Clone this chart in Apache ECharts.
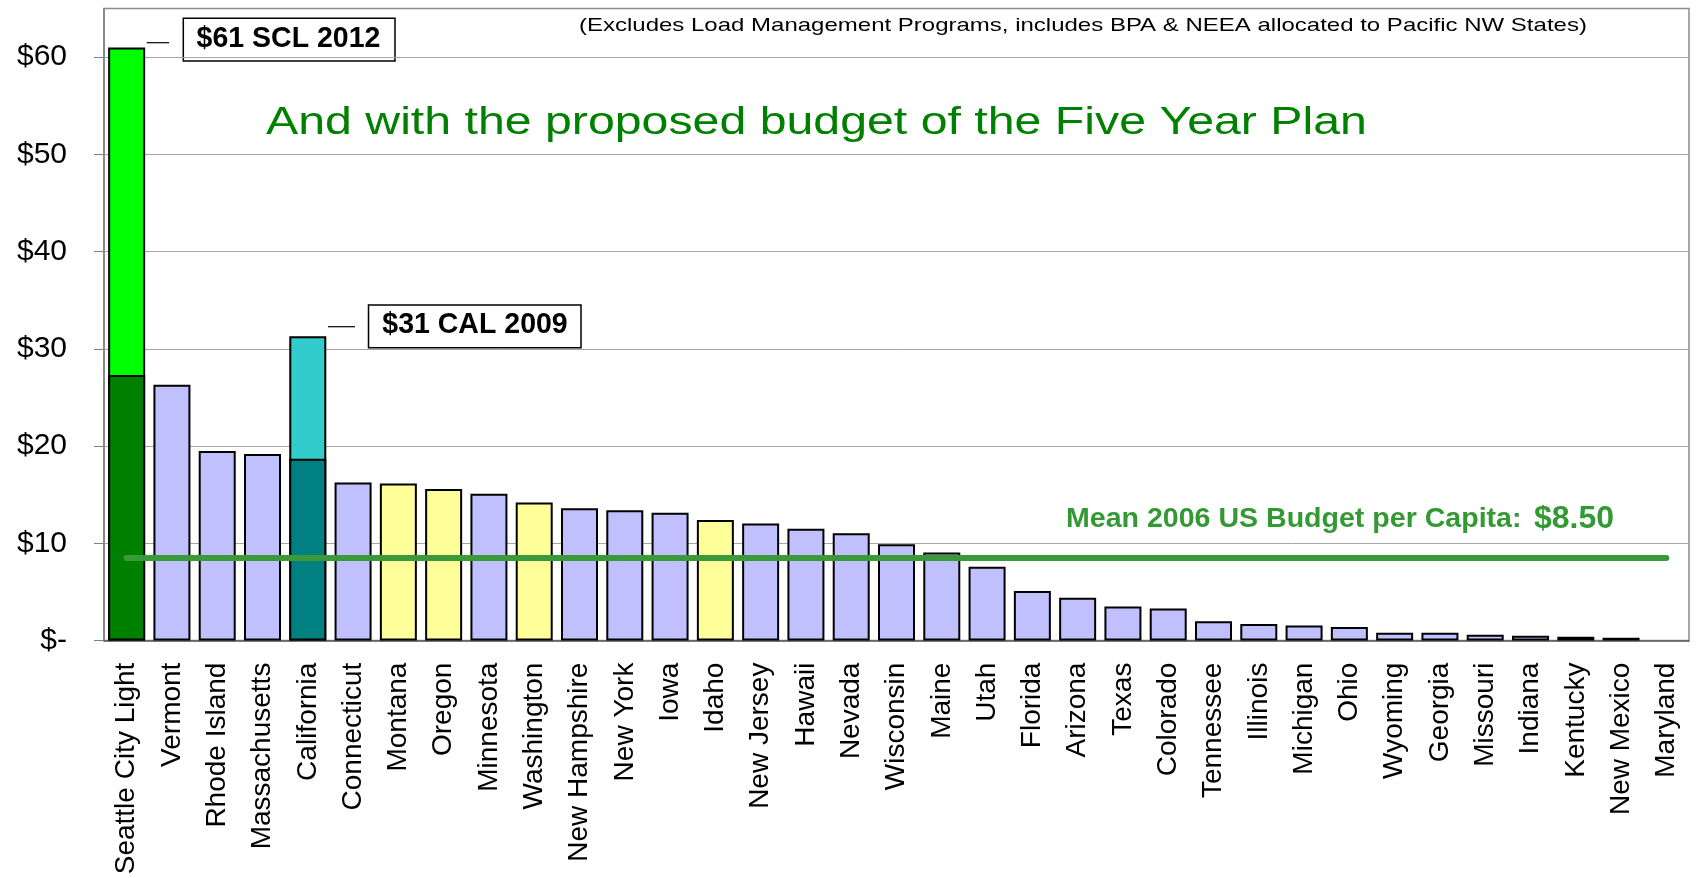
<!DOCTYPE html>
<html><head><meta charset="utf-8">
<script src="https://cdn.jsdelivr.net/npm/echarts@6/dist/echarts.min.js"></script>
<style>html,body{margin:0;padding:0;background:#fff}#c{width:1696px;height:878px}</style>
</head><body><div id="c"></div>
<script>
const categories = ['Seattle City Light','Vermont','Rhode Island','Massachusetts','California','Connecticut','Montana','Oregon','Minnesota','Washington','New Hampshire','New York','Iowa','Idaho','New Jersey','Hawaii','Nevada','Wisconsin','Maine','Utah','Florida','Arizona','Texas','Colorado','Tennessee','Illinois','Michigan','Ohio','Wyoming','Georgia','Missouri','Indiana','Kentucky','New Mexico','Maryland'];
const budget2006 = [27.3, 26.3, 19.5, 19.2, 18.7, 16.25, 16.15, 15.6, 15.1, 14.2, 13.6, 13.4, 13.15, 12.4, 12.05, 11.5, 11.05, 9.9, 9.05, 7.6, 5.1, 4.4, 3.5, 3.3, 2.0, 1.7, 1.55, 1.4, 0.8, 0.8, 0.6, 0.5, 0.4, 0.3, 0];
const proposedBudget = [61, null, null, null, 31.3, null, null, null, null, null, null, null, null, null, null, null, null, null, null, null, null, null, null, null, null, null, null, null, null, null, null, null, null, null, null];
const meanBudget = 8.5;
const yTicks = [0, 10, 20, 30, 40, 50, 60];
const nwStates = ['Montana', 'Oregon', 'Washington', 'Idaho'];
const titleText = 'And with the proposed budget of the Five Year Plan';
const noteText = '(Excludes Load Management Programs, includes BPA & NEEA allocated to Pacific NW States)';
const meanText = 'Mean 2006 US Budget per Capita:';
const meanValueText = '$8.50';
const sclLabel = '$61 SCL 2012';
const calLabel = '$31 CAL 2009';

const FONT = '"Liberation Sans", Arial, Helvetica, sans-serif';
function baseColor(name) {
  if (name === 'Seattle City Light') return '#008000';
  if (name === 'California') return '#008080';
  if (nwStates.indexOf(name) >= 0) return '#FFFF99';
  return '#C0C0FF';
}
function topColor(name) {
  return name === 'California' ? '#33CCCC' : '#00FF00';
}

const chart = echarts.init(document.getElementById('c'), null, {renderer: 'canvas'});
chart.setOption({
  animation: false,
  backgroundColor: '#fff',
  grid: {left: 104, right: 7, top: 8.5, bottom: 237.4, show: true, borderColor: '#8c8c8c', borderWidth: 1.5, backgroundColor: 'transparent'},
  xAxis: {
    type: 'category', data: categories,
    axisLine: {lineStyle: {color: '#555', width: 1.5}},
    axisTick: {length: 9, lineStyle: {color: '#555', width: 1}},
    axisLabel: {rotate: 90, interval: 0, fontSize: 28, fontFamily: FONT, color: '#000', margin: 22}
  },
  yAxis: {
    type: 'value', min: 0, max: 65, interval: 10,
    axisLine: {show: true, lineStyle: {color: '#7f7f7f', width: 1.5}},
    axisTick: {show: true, length: 10, customValues: yTicks, lineStyle: {color: '#7f7f7f'}},
    axisLabel: {customValues: yTicks, fontSize: 30, fontFamily: FONT, color: '#000', margin: 37,
      formatter: v => v === 0 ? '$-' : '$' + v},
    splitLine: {lineStyle: {color: '#a6a6a6', width: 1}}
  },
  series: [
    {
      type: 'bar', name: 'Proposed', barWidth: 37,
      data: proposedBudget.map((v, i) => v == null ? null : {value: v, itemStyle: {color: topColor(categories[i])}}),
      itemStyle: {borderColor: '#000', borderWidth: 2}
    },
    {
      type: 'bar', name: '2006', barWidth: 37, barGap: '-100%',
      data: budget2006.map(v => v === 0 ? {value: v, itemStyle: {borderWidth: 0}} : v),
      itemStyle: {color: p => baseColor(categories[p.dataIndex]), borderColor: '#000', borderWidth: 2},
      markLine: {
        silent: true, symbol: ['none', 'none'], label: {show: false},
        lineStyle: {color: '#3a9a3a', width: 6, type: 'solid', cap: 'round', opacity: 1},
        data: [[{coord: [categories[0], meanBudget]}, {coord: [categories[categories.length - 1], meanBudget]}]]
      }
    }
  ],
  graphic: [
    {type: 'text', x: 579, y: 25.7, scaleX: 1.263, style: {text: noteText, fontSize: 19, fontFamily: FONT, fill: '#000', align: 'left', verticalAlign: 'middle'}},
    {type: 'text', x: 266, y: 124, scaleX: 1.27, style: {text: titleText, fontSize: 38, fontFamily: FONT, fill: '#008000', align: 'left', verticalAlign: 'middle'}},
    {type: 'text', x: 1066, y: 519.6, scaleX: 1.02, style: {text: meanText, fontSize: 28, fontWeight: 'bold', fontFamily: FONT, fill: '#339933', align: 'left', verticalAlign: 'middle'}},
    {type: 'text', x: 1534, y: 518.9, style: {text: meanValueText, fontSize: 32, fontWeight: 'bold', fontFamily: FONT, fill: '#339933', align: 'left', verticalAlign: 'middle'}},
    {type: 'line', shape: {x1: 146.7, y1: 42.7, x2: 169, y2: 42.7}, style: {stroke: '#000', lineWidth: 1.2}},
    {type: 'rect', shape: {x: 183.3, y: 18.3, width: 211.7, height: 42.7}, style: {fill: '#fff', stroke: '#000', lineWidth: 1.5}},
    {type: 'text', x: 288.5, y: 38.9, scaleX: 0.95, style: {text: sclLabel, fontSize: 30, fontWeight: 'bold', fontFamily: FONT, fill: '#000', align: 'center', verticalAlign: 'middle'}},
    {type: 'line', shape: {x1: 328, y1: 326.7, x2: 355, y2: 326.7}, style: {stroke: '#000', lineWidth: 1.2}},
    {type: 'rect', shape: {x: 368.5, y: 305, width: 212.5, height: 42.7}, style: {fill: '#fff', stroke: '#000', lineWidth: 1.5}},
    {type: 'text', x: 475, y: 324.3, scaleX: 0.95, style: {text: calLabel, fontSize: 30, fontWeight: 'bold', fontFamily: FONT, fill: '#000', align: 'center', verticalAlign: 'middle'}}
  ]
});
</script>
</body></html>
